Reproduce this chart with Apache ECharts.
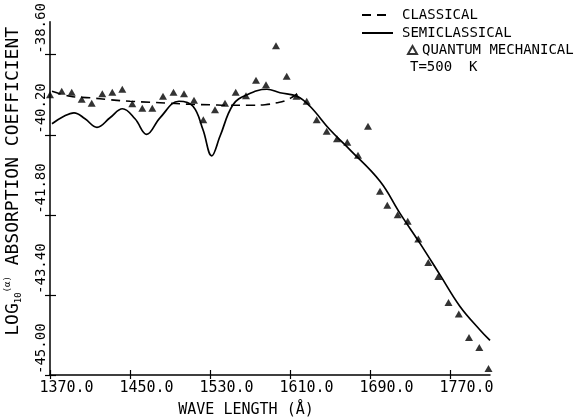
<!DOCTYPE html>
<html><head><meta charset="utf-8">
<script src="https://cdn.jsdelivr.net/npm/echarts@6/dist/echarts.min.js"></script>
<style>html,body{margin:0;padding:0;background:#fff}#c{width:575px;height:419px}</style>
</head><body><div id="c"></div>
<script>
// ---- data ----
const xTicks = [1370, 1450, 1530, 1610, 1690, 1770];
const yTicks = [-45.0, -43.4, -41.8, -40.2, -38.6];

const classicalWl  = [1372, 1390, 1410, 1430, 1450, 1470, 1490, 1510, 1530, 1550, 1570, 1585, 1597, 1605, 1612, 1617];
const classicalVal = [-39.33, -39.43, -39.46, -39.50, -39.53, -39.55, -39.57, -39.59, -39.60, -39.61, -39.61, -39.60, -39.56, -39.52, -39.45, -39.38];

const semiWl  = [1372, 1383, 1394, 1405, 1417, 1430, 1442.5, 1455, 1466.7, 1480, 1499, 1513, 1523, 1531.7, 1540, 1553, 1567, 1587, 1600, 1617, 1630, 1650, 1670, 1700, 1720, 1740, 1760, 1780, 1800, 1810];
const semiVal = [-39.98, -39.84, -39.76, -39.88, -40.05, -39.86, -39.68, -39.88, -40.19, -39.86, -39.53, -39.63, -40.10, -40.62, -40.23, -39.60, -39.40, -39.29, -39.36, -39.43, -39.63, -40.10, -40.50, -41.13, -41.77, -42.37, -43.00, -43.63, -44.10, -44.31];

const quantumWl  = [1370, 1381.7, 1391.7, 1401.7, 1411.7, 1422.3, 1432.3, 1442.3, 1452.3, 1462.3, 1472.3, 1483, 1493.5, 1504, 1514, 1523.3, 1535, 1545, 1555.7, 1566, 1576, 1586, 1596, 1606.7, 1616.5, 1626.7, 1636.7, 1646.7, 1657, 1667.3, 1678, 1688, 1700, 1707.3, 1717.7, 1727.7, 1738.3, 1748.3, 1758.3, 1768.5, 1778.8, 1789, 1799.3, 1808.5];
const quantumVal = [-39.40, -39.33, -39.35, -39.49, -39.57, -39.38, -39.35, -39.29, -39.58, -39.67, -39.67, -39.43, -39.35, -39.38, -39.51, -39.90, -39.70, -39.57, -39.35, -39.42, -39.11, -39.20, -38.42, -39.03, -39.43, -39.53, -39.90, -40.13, -40.28, -40.35, -40.61, -40.03, -41.33, -41.61, -41.80, -41.93, -42.28, -42.75, -43.03, -43.55, -43.78, -44.25, -44.45, -44.87];

// ---- chart ----
const FONT = 'DejaVu Sans Mono';
const zip = (a, b) => a.map((v, i) => [v, b[i]]);
const black = '#000';

const chart = echarts.init(document.getElementById('c'), null, {renderer: 'canvas'});
const xMin = 1370, xMax = 1810, yMin = -45, yMax = -37.94;
const legendText = {fontFamily: FONT, fontSize: 14, color: black};

chart.setOption({
  animation: false,
  backgroundColor: '#fff',
  textStyle: {fontFamily: FONT, color: black},
  grid: {left: 50, right: 85, top: 21.7, bottom: 44, containLabel: false, outerBoundsMode: 'none'},
  legend: [
    {
      data: [{name: 'CLASSICAL', icon: 'path://M0,0h9v2h-9z M15,0h9v2h-9z'}],
      left: 362, top: 8, padding: 0,
      itemWidth: 24, itemHeight: 2, itemGap: 0,
      textStyle: Object.assign({padding: [0, 0, 0, 11]}, legendText),
      itemStyle: {color: black, borderWidth: 0},
      selectedMode: false
    },
    {
      data: [{name: 'SEMICLASSICAL', icon: 'path://M0,0h31v2h-31z'}],
      left: 362, top: 26, padding: 0,
      itemWidth: 31, itemHeight: 2, itemGap: 0,
      textStyle: Object.assign({padding: [0, 0, 0, 4]}, legendText),
      itemStyle: {color: black, borderWidth: 0},
      selectedMode: false
    },
    {
      data: [{name: 'QUANTUM MECHANICAL', icon: 'triangle',
              itemStyle: {color: '#fff', borderColor: black, borderWidth: 2}}],
      left: 407, top: 43, padding: 0,
      itemWidth: 9, itemHeight: 8, itemGap: 0,
      textStyle: legendText,
      selectedMode: false
    }
  ],
  graphic: [{
    type: 'text', left: 410, top: 60,
    style: {text: 'T=500  K', font: '14px "DejaVu Sans Mono"', fill: black}
  }],
  xAxis: [
    {
      type: 'value', min: xMin, max: xMax, position: 'bottom',
      axisLine: {lineStyle: {color: black, width: 1.5}},
      axisTick: {customValues: xTicks, length: 4, lineStyle: {color: black, width: 1.2}},
      axisLabel: {customValues: xTicks, formatter: v => v.toFixed(1), color: black,
                  fontFamily: FONT, fontSize: 15, margin: 6, align: 'center', padding: [0, 0, 0, 33]},
      splitLine: {show: false},
      name: 'WAVE LENGTH (Å)', nameLocation: 'middle', nameGap: 28,
      nameTextStyle: {fontFamily: FONT, fontSize: 15, color: black, padding: [0, 48, 0, 0]}
    },
    {
      type: 'value', min: xMin, max: xMax, position: 'bottom',
      axisLine: {show: false},
      axisTick: {customValues: xTicks, inside: true, length: 5, lineStyle: {color: black, width: 1.2}},
      axisLabel: {show: false}, splitLine: {show: false}
    }
  ],
  yAxis: [
    {
      type: 'value', min: yMin, max: yMax, position: 'left',
      axisLine: {lineStyle: {color: black, width: 1.5}},
      axisTick: {customValues: yTicks, length: 5, lineStyle: {color: black, width: 1.2}},
      axisLabel: {customValues: yTicks, formatter: v => v.toFixed(2), color: black,
                  fontFamily: FONT, fontSize: 14, margin: 2, rotate: 90,
                  align: 'left', verticalAlign: 'bottom', padding: [0, 0, 0, 1]},
      splitLine: {show: false},
      name: '{a|LOG}{b|10}{c|(α)}{a| ABSORPTION COEFFICIENT}',
      nameLocation: 'middle', nameRotate: 90, nameGap: 27,
      nameTextStyle: {
        color: black, padding: [0, 0, 0, 34],
        rich: {
          a: {fontFamily: FONT, fontSize: 18, color: black, lineHeight: 20},
          b: {fontFamily: FONT, fontSize: 9, color: black, verticalAlign: 'bottom'},
          c: {fontFamily: FONT, fontSize: 9, color: black, verticalAlign: 'top'}
        }
      }
    },
    {
      type: 'value', min: yMin, max: yMax, position: 'left',
      axisLine: {show: false},
      axisTick: {customValues: yTicks, inside: true, length: 6, lineStyle: {color: black, width: 1.2}},
      axisLabel: {show: false}, splitLine: {show: false}
    }
  ],
  series: [
    {
      name: 'CLASSICAL', type: 'line', xAxisIndex: 0, yAxisIndex: 0,
      data: zip(classicalWl, classicalVal), smooth: 0.4, symbol: 'none',
      lineStyle: {color: black, width: 1.6, type: [9, 6]}, itemStyle: {color: black}
    },
    {
      name: 'SEMICLASSICAL', type: 'line', xAxisIndex: 0, yAxisIndex: 0,
      data: zip(semiWl, semiVal), smooth: 0.4, symbol: 'none',
      lineStyle: {color: black, width: 1.7}, itemStyle: {color: black}
    },
    {
      name: 'QUANTUM MECHANICAL', type: 'scatter', xAxisIndex: 0, yAxisIndex: 0,
      data: zip(quantumWl, quantumVal), symbol: 'triangle', symbolSize: [8, 7],
      itemStyle: {color: black}
    }
  ]
});
</script>
</body></html>
